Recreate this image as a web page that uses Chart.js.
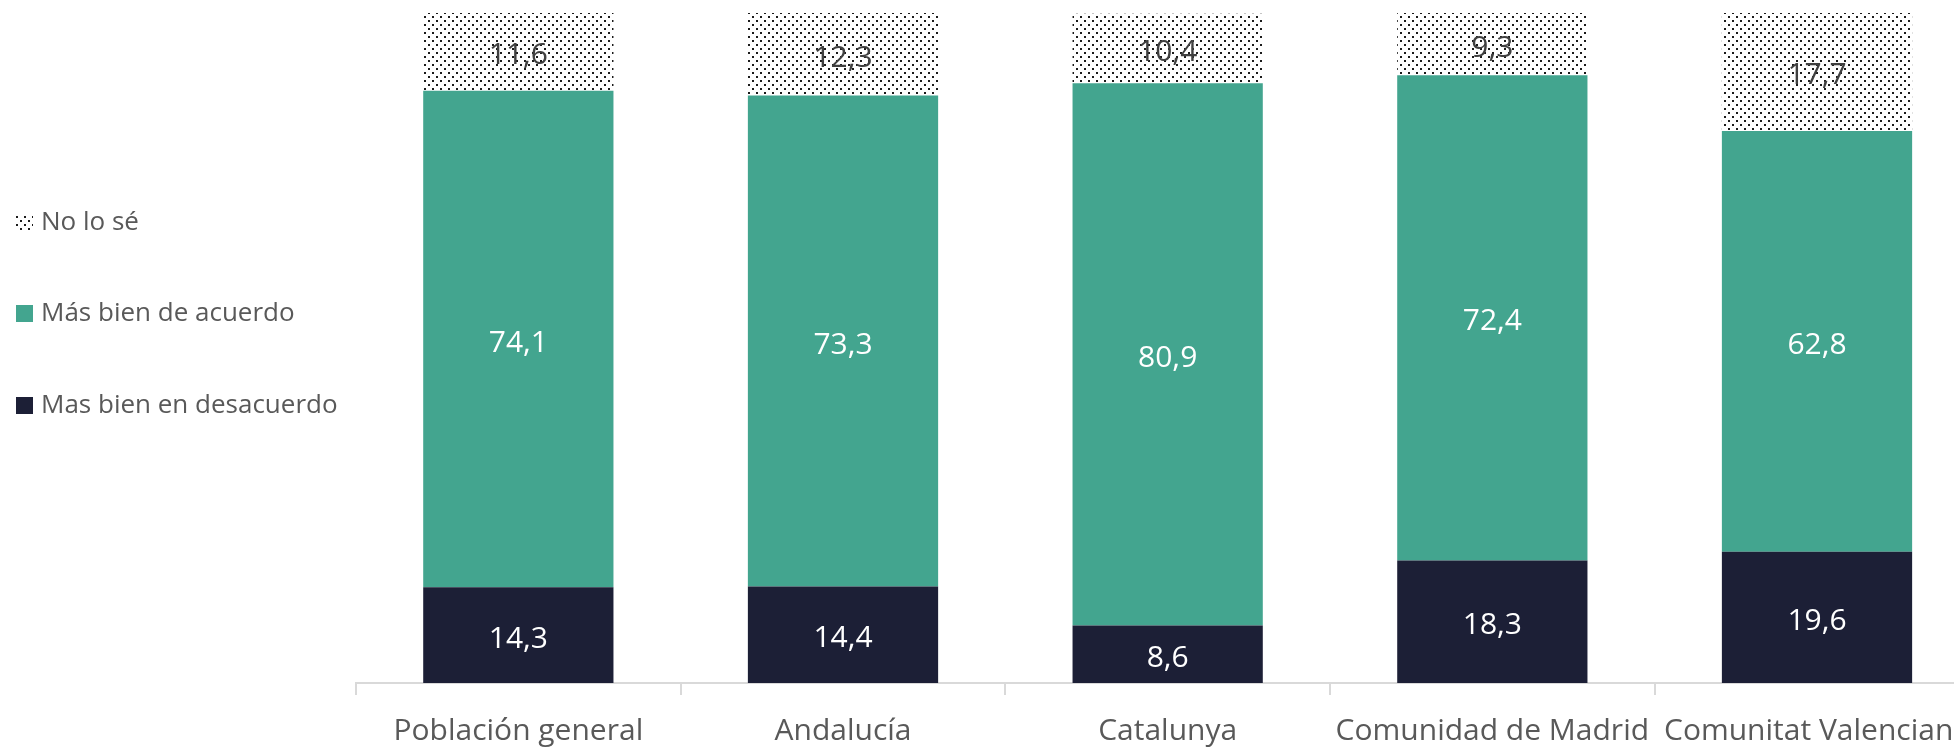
<!DOCTYPE html>
<html lang="es">
<head>
<meta charset="utf-8">
<title>Opinión por comunidad</title>
<script src="https://cdn.jsdelivr.net/npm/chart.js@4.4.1/dist/chart.umd.min.js"></script>
<style>
    html, body { margin: 0; padding: 0; background: #fff; overflow: hidden; }
    /* el eje X sigue un poco más allá del borde derecho, como en el original */
    .chart-box { position: relative; width: 1988px; height: 749px; }
</style>
</head>
<body>
<div class="chart-box">
    <canvas id="opinionChart"></canvas>
</div>
<script>
const categories = ['Población general', 'Andalucía', 'Catalunya', 'Comunidad de Madrid', 'Comunitat Valenciana'];
const desacuerdo = [14.3, 14.4, 8.6, 18.3, 19.6];
const acuerdo = [74.1, 73.3, 80.9, 72.4, 62.8];
const noLoSe = [11.6, 12.3, 10.4, 9.3, 17.7];
const seriesLabels = ['Mas bien en desacuerdo', 'Más bien de acuerdo', 'No lo sé'];

document.addEventListener('DOMContentLoaded', () => {
    const FONT = "'Open Sans', 'Noto Sans', sans-serif";
    const GREY_TEXT = '#595959';

    // patrón de puntos para "No lo sé"
    function makeDots() {
        const tile = document.createElement('canvas');
        tile.width = 8;
        tile.height = 8;
        const t = tile.getContext('2d');
        t.fillStyle = '#ffffff';
        t.fillRect(0, 0, 8, 8);
        t.fillStyle = '#1a1a1a';
        t.fillRect(0, 0, 2, 2);
        t.fillRect(4, 4, 2, 2);
        return t.createPattern(tile, 'repeat');
    }

    const ctx = document.getElementById('opinionChart').getContext('2d');
    const dots = makeDots();

    // etiquetas de valor en el centro de cada segmento
    const valueLabels = {
        id: 'valueLabels',
        afterDatasetsDraw(chart) {
            const c = chart.ctx;
            c.save();
            c.font = `30px ${FONT}`;
            c.textAlign = 'center';
            c.textBaseline = 'middle';
            chart.data.datasets.forEach((ds, i) => {
                const meta = chart.getDatasetMeta(i);
                meta.data.forEach((bar, j) => {
                    const { x, y, base } = bar.getProps(['x', 'y', 'base'], true);
                    c.fillStyle = ds.labelColor;
                    c.fillText(ds.data[j].toFixed(1).replace('.', ','), x, (y + base) / 2 + 4);
                });
            });
            c.restore();
        }
    };

    // leyenda vertical a la izquierda (orden inverso al apilado)
    const sideLegend = {
        id: 'sideLegend',
        afterDraw(chart) {
            const c = chart.ctx;
            const rows = [222, 313, 405];
            const sets = chart.data.datasets.slice().reverse();
            c.save();
            c.font = `26px ${FONT}`;
            c.textAlign = 'left';
            c.textBaseline = 'middle';
            sets.forEach((ds, k) => {
                const yc = rows[k];
                c.fillStyle = ds.backgroundColor;
                c.fillRect(16, yc - 8, 17, 17);
                c.fillStyle = GREY_TEXT;
                c.fillText(ds.label, 41, yc + 1);
            });
            c.restore();
        }
    };

    new Chart(ctx, {
        type: 'bar',
        data: {
            labels: categories,
            datasets: [
                {
                    label: seriesLabels[0],
                    data: desacuerdo,
                    backgroundColor: '#1c1f36',
                    labelColor: '#ffffff'
                },
                {
                    label: seriesLabels[1],
                    data: acuerdo,
                    backgroundColor: '#43a58f',
                    labelColor: '#ffffff'
                },
                {
                    label: seriesLabels[2],
                    data: noLoSe,
                    backgroundColor: dots,
                    labelColor: '#404040'
                }
            ]
        },
        options: {
            responsive: true,
            maintainAspectRatio: false,
            animation: false,
            categoryPercentage: 1,
            barPercentage: 0.586,
            layout: { padding: { left: 356, top: 13, right: 0, bottom: 0 } },
            scales: {
                x: {
                    stacked: true,
                    grid: {
                        offset: true,
                        drawOnChartArea: false,
                        drawTicks: true,
                        tickLength: 12,
                        color: '#d9d9d9',
                        lineWidth: 2
                    },
                    border: { display: true, color: '#d9d9d9', width: 2 },
                    ticks: {
                        color: GREY_TEXT,
                        font: { family: FONT, size: 30 },
                        padding: 18,
                        maxRotation: 0,
                        autoSkip: false
                    },
                    afterFit: (axis) => { axis.height = 66; }
                },
                y: {
                    stacked: true,
                    display: false,
                    min: 0,
                    max: 100
                }
            },
            plugins: {
                legend: { display: false },
                tooltip: { enabled: false }
            }
        },
        plugins: [valueLabels, sideLegend]
    });
});
</script>
</body>
</html>
